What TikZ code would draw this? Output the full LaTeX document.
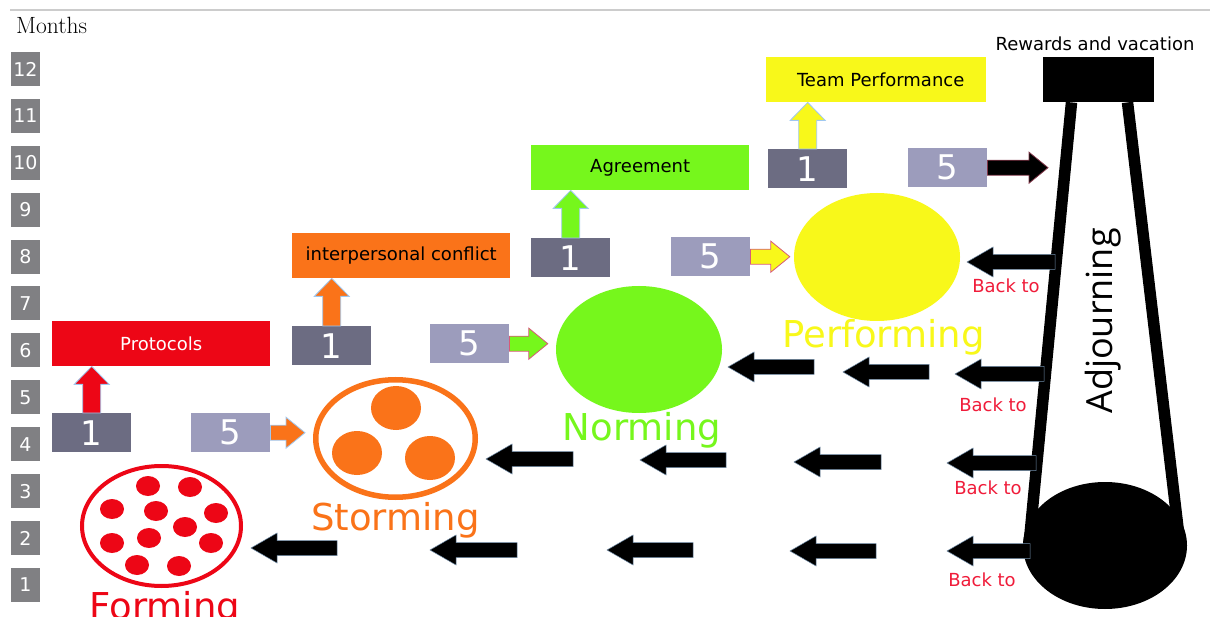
\documentclass[tikz,border=0pt]{standalone}
\usepackage{fontspec}
\usetikzlibrary{calc,shapes.geometric}
\newfontfamily\dejavu{DejaVu Sans}
\newfontfamily\opensans{Open Sans}
\newcommand\pxsize[1]{\fontsize{#1}{#1}\selectfont}

\definecolor{monthgray}{RGB}{128,128,131}
\definecolor{darkslab}{RGB}{108,108,130}
\definecolor{lightslab}{RGB}{156,156,188}
\definecolor{formred}{RGB}{237,6,22}
\definecolor{stormorange}{RGB}{250,115,25}
\definecolor{normgreen}{RGB}{118,247,28}
\definecolor{perfyellow}{RGB}{248,248,26}
\definecolor{backred}{RGB}{240,28,58}
\definecolor{bluerim}{RGB}{160,200,240}
\definecolor{pinkrim}{RGB}{215,90,120}

\begin{document}
\begin{tikzpicture}[x=1pt,y=-1pt,
  month/.style={fill=monthgray, text=white, minimum width=29pt, minimum height=34pt,
    inner sep=0pt, font=\dejavu\pxsize{19}},
  slab/.style={minimum width=79pt, minimum height=39pt, inner sep=0pt, text=white,
    font=\dejavu\pxsize{34}, anchor=north west},
  onebox/.style={slab, fill=darkslab},
  fivebox/.style={slab, fill=lightslab},
  goalbox/.style={minimum width=218pt, minimum height=45pt, inner sep=0pt,
    anchor=north west, font=\dejavu\pxsize{18}},
  stagename/.style={font=\dejavu\pxsize{37}, anchor=base},
  backlabel/.style={font=\dejavu\pxsize{18}, text=backred, anchor=base},
  % block arrow pointing up, from a box top to the box above
  upblk/.style={line width=0.8pt, draw=bluerim, to path={
    let \p1=(\tikztostart), \p2=(\tikztotarget) in
    (\x1-9pt,\y1) -- (\x1-9pt,\y2-18pt) -- (\x1-17.5pt,\y2-18pt) -- (\x1,\y2)
    -- (\x1+17.5pt,\y2-18pt) -- (\x1+9pt,\y2-18pt) -- (\x1+9pt,\y1) -- cycle}},
  % block arrow pointing right
  rtblk/.style={line width=0.8pt, to path={
    let \p1=(\tikztostart), \p2=(\tikztotarget) in
    (\x1,\y1+7.5pt) -- (\x2-19pt,\y1+7.5pt) -- (\x2-19pt,\y1+15.5pt) -- (\x2,\y1)
    -- (\x2-19pt,\y1-15.5pt) -- (\x2-19pt,\y1-7.5pt) -- (\x1,\y1-7.5pt) -- cycle}},
  % black block arrow pointing left (tail to tip)
  ltblk/.style={fill=black, draw=bluerim!70!black, line width=0.5pt, to path={
    let \p1=(\tikztostart), \p2=(\tikztotarget) in
    (\x1,\y1+7.5pt) -- (\x2+26pt,\y1+7.5pt) -- (\x2+26pt,\y1+15pt) -- (\x2,\y1)
    -- (\x2+26pt,\y1-15pt) -- (\x2+26pt,\y1-7.5pt) -- (\x1,\y1-7.5pt) -- cycle}},
]
\useasboundingbox (0,0) rectangle (1210,617);
\fill[white] (0,0) rectangle (1210,617);

% header rule and axis title
\draw[gray!40, line width=1.2pt] (10,10) -- (1210,10);
\node[anchor=base west, inner sep=0pt, font=\rmfamily\pxsize{23.5}] (months) at (16,33.5) {Months};

% month scale
\foreach \m in {1,...,12}
  \node[month] (m\m) at (25.5,{69+(12-\m)*46.9}) {\m};

% ---------- Forming ----------
\node[ellipse, draw=formred, line width=4pt, fill=white, minimum width=159pt,
  minimum height=120pt, inner sep=0pt] (form) at (161.5,526) {};
\foreach \dx/\dy in {148/486,190/487,112/509,156/511,216/513,185/527,
                     112/543,149/538,211/543,137/565,179/566}
  \fill[formred] (\dx,\dy) ellipse [x radius=12pt, y radius=10pt];
\node[stagename, text=formred] (formlbl) at (165,619) {Forming};

\node[goalbox, fill=formred, text=white] (prot) at (52,321) {Protocols};
\node[onebox] (one1) at (52,413) {1};
\node[fivebox] (five1) at (191,413) {5};
\fill[formred, upblk] (one1.north) to (prot.south -| one1.north);

% ---------- Storming ----------
\node[ellipse, draw=stormorange, line width=5.5pt, fill=white, minimum width=159.5pt,
  minimum height=117.5pt, inner sep=0pt] (storm) at (395.5,438.5) {};
\fill[stormorange] (396,408) ellipse [x radius=25pt, y radius=22pt];
\fill[stormorange] (357,453) ellipse [x radius=25pt, y radius=22pt];
\fill[stormorange] (430,458) ellipse [x radius=25pt, y radius=22pt];
\node[stagename, text=stormorange] (stormlbl) at (395.5,530) {Storming};
\fill[stormorange, draw=bluerim, rtblk] (five1.east) to ([xshift=-8pt]storm.west);

\node[goalbox, fill=stormorange] (conf) at (292,233) {interpersonal conflict};
\node[onebox] (one2) at (292,326) {1};
\node[fivebox] (five2) at (430,324) {5};
\fill[stormorange, upblk] (one2.north) to (conf.south -| one2.north);

% ---------- Norming ----------
\node[ellipse, fill=normgreen, minimum width=166pt, minimum height=127pt,
  inner sep=0pt] (norm) at (639,349.5) {};
\node[stagename, text=normgreen] (normlbl) at (642,440) {Norming};
\fill[normgreen, draw=pinkrim, rtblk] (five2.east) to ([xshift=-8pt]norm.west);

\node[goalbox, fill=normgreen] (agree) at (531,145) {Agreement};
\node[onebox] (one3) at (531,238) {1};
\node[fivebox] (five3) at (671,237) {5};
\fill[normgreen, upblk] (one3.north) to (agree.south -| one3.north);

% ---------- Performing ----------
\node[ellipse, fill=perfyellow, minimum width=166pt, minimum height=128pt,
  inner sep=0pt] (perf) at (877,257) {};
\node[stagename, text=perfyellow] (perflbl) at (883.5,348) {Performing};
\fill[perfyellow, draw=pinkrim, rtblk] (five3.east) to ([xshift=-4pt]perf.west);

\node[goalbox, minimum width=220pt, fill=perfyellow] (team) at (766,57) {\hspace*{9pt}Team Performance};
\node[onebox] (one4) at (768,149) {1};
\node[fivebox] (five4) at (908,148) {5};
\fill[perfyellow, upblk] (one4.north) to (team.south -| one4.north);

% ---------- Adjourning ----------
\node[fill=black, minimum width=111pt, minimum height=45pt, inner sep=0pt,
  anchor=north west] (reward) at (1043,57) {};
\node[anchor=base, font=\dejavu\pxsize{18}] (rewlbl) at (1095,50.5) {Rewards and vacation};
\coordinate (coneL) at (1029,545);
\coordinate (coneR) at (1180,545);
\draw[line width=11.5pt] (reward.south -| 1071.5,0) -- (coneL);
\draw[line width=11.5pt] (reward.south -| 1127.5,0) -- (coneR);
\node[ellipse, fill=black, minimum width=164pt, minimum height=127pt,
  inner sep=0pt] (base) at (1105,545.5) {};
\node[rotate=90, font=\opensans\pxsize{36}] (adjlbl) at (1103,321) {Adjourning};

\coordinate (adjin) at (1048,165);
\fill[black, draw=pinkrim!60!black, rtblk] (five4.east) to (adjin);

% ---------- return arrows ----------
\draw[ltblk] (1055,262) to (967,262);
\draw[ltblk] (814,367) to (728,367);
\draw[ltblk] (929,372) to (843,372);
\draw[ltblk] (1044,374) to (955,374);
\draw[ltblk] (573,459) to (486,459);
\draw[ltblk] (726,460) to (640,460);
\draw[ltblk] (881,462) to (794,462);
\draw[ltblk] (1036,463) to (947,463);
\draw[ltblk] (337,548) to (251,548);
\draw[ltblk] (517,550) to (430,550);
\draw[ltblk] (693,550) to (607,550);
\draw[ltblk] (876,551) to (790,551);
\draw[ltblk] (1030,551) to (947,551);

\node[backlabel] (back1) at (1006,293) {Back to};
\node[backlabel] (back2) at (993,411) {Back to};
\node[backlabel] (back3) at (988,494) {Back to};
\node[backlabel] (back4) at (982,586) {Back to};
\end{tikzpicture}
\end{document}
